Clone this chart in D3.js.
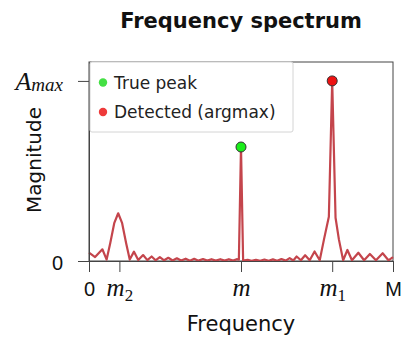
<!DOCTYPE html>
<html lang="en">
  <head>
    <meta charset="utf-8">
    <title>Frequency spectrum</title>
    <script src="https://cdnjs.cloudflare.com/ajax/libs/d3/7.8.5/d3.min.js"></script>
    <style>
      body { margin: 0; background: #fff; }
      svg { display: block; font-family: "DejaVu Sans", sans-serif; }
      .math { font-family: "Liberation Serif", serif; font-style: italic; }
    </style>
  </head>
  <body>
    <div id="graph"></div>
    <script>
    // spectrum samples (frequency units 0..M=100, magnitude relative to A_max=1)
    const freq = [0, 2.0, 4.4, 5.8, 7.0, 8.3, 9.6, 10.9, 12.2, 13.4, 14.8, 16.2, 17.8, 19.2, 20.6, 21.9,
                  23.3, 24.7, 26.1, 27.5, 28.9, 30.3, 31.8, 33.2, 34.6, 36.0, 37.5, 38.9, 40.3, 41.7, 43.2,
                  44.6, 46.0, 47.4, 48.6, 49.3, 50, 50.7, 52.2, 53.5, 54.9, 56.3, 57.7, 59.1, 60.5, 61.9,
                  63.3, 64.7, 66.0, 67.2, 68.3, 69.7, 71.1, 72.6, 74.2, 75.9, 77.3, 78.9, 80, 81.1, 82.2,
                  83.6, 85.0, 86.5, 88.6, 90.5, 92.4, 94.4, 96.6, 98.5, 100];
    const magnitude = [0.046, 0.022, 0.065, 0.008, 0.10, 0.21, 0.265, 0.21, 0.10, 0.008, 0.052, 0.005, 0.033, 0.005, 0.025, 0.004,
                  0.022, 0.004, 0.018, 0.003, 0.015, 0.003, 0.013, 0.002, 0.012, 0.002, 0.011, 0.002, 0.010, 0.002, 0.010,
                  0.002, 0.010, 0.002, 0.010, 0.008, 0.633, 0.002, 0.006, 0.001, 0.007, 0.001, 0.008, 0.001, 0.009, 0.001,
                  0.011, 0.002, 0.016, 0.003, 0.025, 0.004, 0.032, 0.004, 0.053, 0.004, 0.12, 0.246, 1.0, 0.24, 0.12,
                  0.004, 0.061, 0.004, 0.046, 0.004, 0.039, 0.004, 0.043, 0.004, 0.022];

    const xTickValues = [0, 10, 50, 80, 100];
    const xTickBase   = ["0", "m", "m", "m", "M"];
    const xTickSub    = ["", "2", "", "1", ""];
    const xTickMath   = [false, true, true, true, false];

    const yTickValues = [0, 1];

    const truePeak = {f: 50, a: 0.633};
    const detectedPeak = {f: 80, a: 1.0};

    const legendLabels = ["True peak", "Detected (argmax)"];
    const legendColors = ["#44e044", "#ee3a3a"];

    const W = 406, H = 339;
    const margin = {left: 89, top: 62, right: 13, bottom: 78};
    const w = W - margin.left - margin.right;
    const h = H - margin.top - margin.bottom;

    const svg = d3.select("#graph").append("svg")
      .attr("width", W).attr("height", H);

    const xScale = d3.scaleLinear().domain([0, 100]).range([0, w]);
    const yScale = d3.scaleLinear().domain([0, 1.105]).range([h, 0]);

    const g = svg.append("g")
      .attr("transform", "translate(" + margin.left + "," + margin.top + ")");

    // title
    svg.append("text")
      .attr("x", margin.left + w / 2)
      .attr("y", 28)
      .attr("text-anchor", "middle")
      .style("font-size", "21px")
      .style("font-weight", "bold")
      .attr("fill", "#111")
      .text("Frequency spectrum");

    // frame
    g.append("rect")
      .attr("x", 0).attr("y", 0)
      .attr("width", w).attr("height", h)
      .attr("fill", "none")
      .attr("stroke", "#444")
      .attr("stroke-width", 1);

    // spectrum line
    const line = d3.line()
      .x((d, i) => xScale(freq[i]))
      .y(d => yScale(d));

    g.append("path")
      .datum(magnitude)
      .attr("d", line)
      .attr("fill", "none")
      .attr("stroke", "#c4454c")
      .attr("stroke-width", 2.2)
      .attr("stroke-linejoin", "round");

    // x axis
    const xAxis = d3.axisBottom(xScale)
      .tickValues(xTickValues)
      .tickSize(11)
      .tickSizeOuter(0)
      .tickFormat("");

    const xg = g.append("g")
      .attr("transform", "translate(0," + h + ")")
      .call(xAxis);
    xg.select(".domain").attr("stroke", "#444");
    xg.selectAll(".tick line").attr("stroke", "#444");

    xg.selectAll(".tick").each(function (d, i) {
      const t = d3.select(this).append("text")
        .attr("y", 35)
        .attr("text-anchor", "middle")
        .attr("fill", "#111");
      if (xTickMath[i]) {
        t.append("tspan").attr("class", "math").style("font-size", "25px").text(xTickBase[i]);
        if (xTickSub[i]) {
          t.append("tspan")
            .style("font-family", "Liberation Serif, serif")
            .style("font-size", "17px")
            .attr("dy", 5)
            .text(xTickSub[i]);
        }
      } else {
        t.style("font-size", "20px").text(xTickBase[i]);
      }
    });

    // y axis
    const yAxis = d3.axisLeft(yScale)
      .tickValues(yTickValues)
      .tickSize(11)
      .tickSizeOuter(0)
      .tickFormat("");

    const yg = g.append("g").call(yAxis);
    yg.select(".domain").attr("stroke", "#444");
    yg.selectAll(".tick line").attr("stroke", "#444");

    yg.selectAll(".tick").each(function (d, i) {
      const t = d3.select(this).append("text")
        .attr("x", -26)
        .attr("text-anchor", "end")
        .attr("fill", "#111");
      if (d === 0) {
        t.attr("dy", 8).style("font-size", "20px").text("0");
      } else {
        t.attr("dy", 9);
        t.append("tspan").attr("class", "math").style("font-size", "26px").text("A");
        t.append("tspan").attr("class", "math").style("font-size", "19px").attr("dy", 1).text("max");
      }
    });

    // axis labels
    svg.append("text")
      .attr("x", margin.left + w / 2)
      .attr("y", 331)
      .attr("text-anchor", "middle")
      .style("font-size", "21px")
      .attr("fill", "#111")
      .text("Frequency");

    svg.append("text")
      .attr("transform", "translate(41," + 160 + ") rotate(-90)")
      .attr("text-anchor", "middle")
      .style("font-size", "20px")
      .attr("fill", "#111")
      .text("Magnitude");

    // legend
    const legend = g.append("g").attr("transform", "translate(1,0)");
    legend.append("rect")
      .attr("x", 0).attr("y", 0)
      .attr("width", 203).attr("height", 70)
      .attr("rx", 2)
      .attr("fill", "#fff")
      .attr("stroke", "#d4d4d4");

    legendLabels.forEach((lab, i) => {
      legend.append("circle")
        .attr("cx", 13).attr("cy", 20.5 + i * 29.5)
        .attr("r", 4.2)
        .attr("fill", legendColors[i]);
      legend.append("text")
        .attr("x", 24).attr("y", 26.5 + i * 29.5)
        .style("font-size", "17px")
        .attr("fill", "#222")
        .text(lab);
    });

    // peak markers
    g.append("circle")
      .attr("cx", xScale(truePeak.f)).attr("cy", yScale(truePeak.a))
      .attr("r", 5)
      .attr("fill", "#1aee1a")
      .attr("stroke", "#333").attr("stroke-width", 1);

    g.append("circle")
      .attr("cx", xScale(detectedPeak.f)).attr("cy", yScale(detectedPeak.a))
      .attr("r", 5)
      .attr("fill", "#ee1111")
      .attr("stroke", "#333").attr("stroke-width", 1);
    </script>
  </body>
</html>
